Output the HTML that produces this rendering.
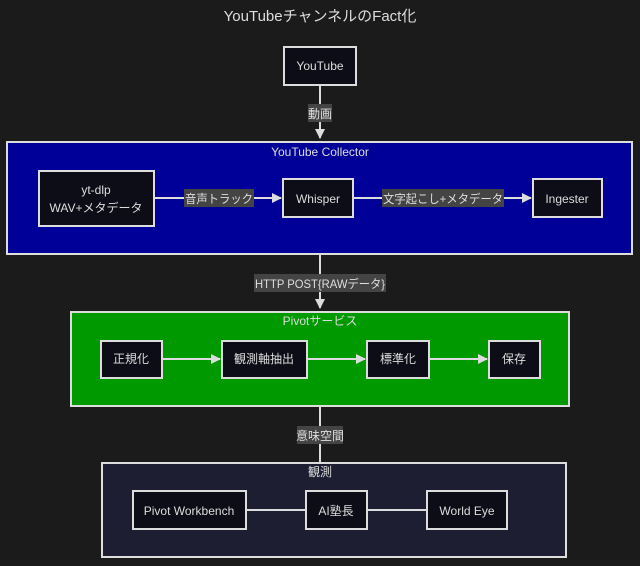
<!DOCTYPE html>
<html><head><meta charset="utf-8"><style>
html,body{margin:0;padding:0;background:#1b1b1b;}
svg{display:block;font-family:"Liberation Sans","Noto Sans CJK JP",sans-serif;}
</style></head><body>
<svg width="640" height="566" viewBox="0 0 640 566" xmlns="http://www.w3.org/2000/svg">
<defs><marker id="a" markerWidth="10" markerHeight="10" refX="9" refY="5" orient="auto" markerUnits="userSpaceOnUse"><path d="M0,0 L10,5 L0,10 z" fill="#ddd"/></marker></defs>
<rect width="640" height="566" fill="#1b1b1b"/>
<text x="320" y="21" fill="#ddd" font-size="15" text-anchor="middle">YouTubeチャンネルのFact化</text>
<g stroke="#ddd" stroke-width="2">
<rect x="284" y="47" width="72" height="38" fill="#0d0d17"/>
<line x1="320" y1="85" x2="320" y2="138" marker-end="url(#a)"/>
<rect x="7" y="142" width="625" height="112" fill="#000099"/>
<rect x="39" y="171" width="115" height="55" fill="#0d0d17"/>
<rect x="283" y="179" width="70" height="38" fill="#0d0d17"/>
<rect x="533" y="179" width="69" height="38" fill="#0d0d17"/>
<line x1="154" y1="198" x2="281" y2="198" marker-end="url(#a)"/>
<line x1="353" y1="198" x2="531" y2="198" marker-end="url(#a)"/>
<line x1="320" y1="254" x2="320" y2="308" marker-end="url(#a)"/>
<rect x="71" y="312" width="498" height="94" fill="#009900"/>
<rect x="101" y="341" width="61" height="37" fill="#0d0d17"/>
<rect x="222" y="341" width="85" height="37" fill="#0d0d17"/>
<rect x="367" y="341" width="62" height="37" fill="#0d0d17"/>
<rect x="489" y="341" width="51" height="37" fill="#0d0d17"/>
<line x1="162" y1="359" x2="220" y2="359" marker-end="url(#a)"/>
<line x1="307" y1="359" x2="365" y2="359" marker-end="url(#a)"/>
<line x1="429" y1="359" x2="487" y2="359" marker-end="url(#a)"/>
<line x1="320" y1="406" x2="320" y2="463"/>
<rect x="102" y="463" width="464" height="94" fill="#1e1e33"/>
<rect x="133" y="491" width="113" height="38" fill="#0d0d17"/>
<rect x="306" y="491" width="61" height="38" fill="#0d0d17"/>
<rect x="427" y="491" width="80" height="38" fill="#0d0d17"/>
<line x1="246" y1="510" x2="306" y2="510"/>
<line x1="367" y1="510" x2="427" y2="510"/>
</g>
<g fill="#444">
<rect x="308" y="104" width="24" height="18"/>
<rect x="184" y="189" width="70" height="18"/>
<rect x="382" y="189" width="122" height="18"/>
<rect x="254" y="274" width="132" height="18"/>
<rect x="297" y="426" width="46" height="18"/>
</g>
<g fill="#ddd" font-size="12" text-anchor="middle">
<text x="320" y="70">YouTube</text>
<text x="320" y="118">動画</text>
<text x="320" y="156">YouTube Collector</text>
<text x="96" y="194">yt-dlp</text>
<text x="96" y="212">WAV+メタデータ</text>
<text x="219" y="203" textLength="68" lengthAdjust="spacingAndGlyphs">音声トラック</text>
<text x="318" y="203">Whisper</text>
<text x="443" y="203" textLength="120" lengthAdjust="spacingAndGlyphs">文字起こし+メタデータ</text>
<text x="567" y="203">Ingester</text>
<text x="320" y="288" textLength="130" lengthAdjust="spacingAndGlyphs">HTTP POST{RAWデータ}</text>
<text x="320" y="325">Pivotサービス</text>
<text x="131" y="363">正規化</text>
<text x="264" y="363">観測軸抽出</text>
<text x="398" y="363">標準化</text>
<text x="514" y="363">保存</text>
<text x="320" y="440">意味空間</text>
<text x="320" y="476">観測</text>
<text x="189" y="515">Pivot Workbench</text>
<text x="336" y="515">AI塾長</text>
<text x="467" y="515">World Eye</text>
</g>
</svg>
</body></html>
